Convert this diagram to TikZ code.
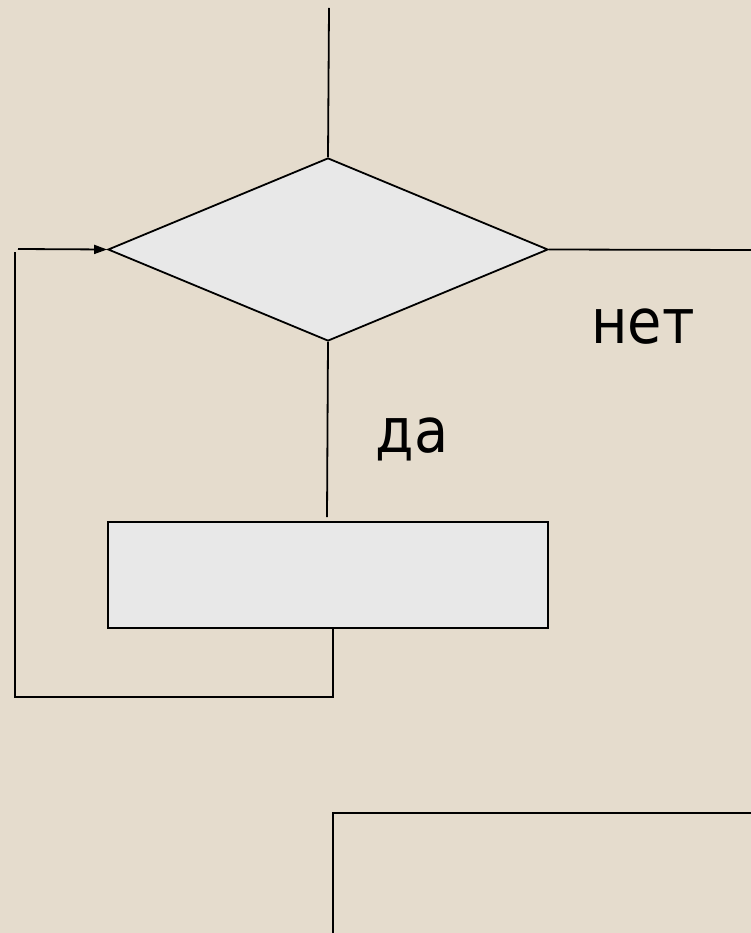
\documentclass[tikz,border=0pt]{standalone}
\usepackage{fontspec}
\setmainfont{DejaVu Sans}
\usetikzlibrary{shapes.geometric,arrows.meta}
\definecolor{bg}{RGB}{229,220,205}
\definecolor{boxfill}{RGB}{232,232,232}
\tikzset{
  flow/.style={draw=black,line width=1.8pt},
  decision/.style={diamond,draw=black,line width=1.8pt,fill=boxfill,inner sep=0pt,minimum width=440pt,minimum height=183pt},
  action/.style={rectangle,draw=black,line width=1.8pt,fill=boxfill,inner sep=0pt,minimum width=440pt,minimum height=106pt},
  label/.style={font=\fontsize{62}{62}\selectfont,inner sep=0pt,xscale=0.9}
}
\begin{document}
\begin{tikzpicture}[x=1pt,y=-1pt]
\fill[bg] (0,0) rectangle (751,933);
\useasboundingbox (0,0) rectangle (751,933);
\node[decision] (cond) at (328,249.5) {};
\node[action] (body) at (328,575) {};
\coordinate (top) at (329,8);
\coordinate (exit) at (751,250);
\coordinate (yesend) at (327,517);
\coordinate (b1) at (333,628);
\coordinate (b2) at (333,697);
\coordinate (b3) at (15,697);
\coordinate (b4) at (15,252);
\coordinate (b5) at (18,249);
\draw[flow] (top) -- (cond.north);
\draw[flow] (cond.east) -- (exit);
\draw[flow] (cond.south) -- (yesend);
\draw[flow] (b1) -- (b2) -- (b3) -- (b4);
\draw[flow,-{Triangle[length=13pt,width=9pt]}] (b5) -- (cond.west);
\node[label,anchor=base] (no) at (643,343) {нет};
\node[label,anchor=base] (yes) at (412,452) {да};
\coordinate (n1) at (333,940);
\coordinate (n2) at (333,813);
\coordinate (n3) at (760,813);
\begin{scope}
\clip (0,0) rectangle (751,933);
\draw[line width=2.2pt] (n1) -- (n2) -- (n3);
\end{scope}
\end{tikzpicture}
\end{document}
